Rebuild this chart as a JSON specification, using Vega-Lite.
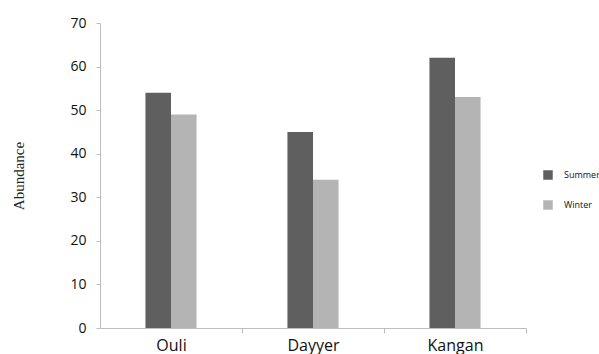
{
  "$schema": "https://vega.github.io/schema/vega-lite/v6.json",
  "width": 426,
  "height": 305,
  "autosize": {"type": "none"},
  "padding": {"left": 100, "top": 23, "right": 73, "bottom": 26},
  "background": "white",
  "data": {
    "values": [
      {"site": "Ouli", "season": "Summer", "abundance": 54},
      {"site": "Ouli", "season": "Winter", "abundance": 49},
      {"site": "Dayyer", "season": "Summer", "abundance": 45},
      {"site": "Dayyer", "season": "Winter", "abundance": 34},
      {"site": "Kangan", "season": "Summer", "abundance": 62},
      {"site": "Kangan", "season": "Winter", "abundance": 53}
    ]
  },
  "mark": {"type": "bar"},
  "encoding": {
    "x": {
      "field": "site",
      "type": "nominal",
      "sort": ["Ouli", "Dayyer", "Kangan"],
      "scale": {"paddingInner": 0.64, "paddingOuter": 0.32},
      "axis": {
        "title": null,
        "labelAngle": 0,
        "labelFont": "Open Sans",
        "labelFontSize": 16,
        "labelColor": "#111",
        "labelPadding": 4,
        "tickBand": "center",
        "tickOffset": 71,
        "labelOffset": -71,
        "tickSize": 5,
        "tickColor": "#bdbdbd",
        "domainColor": "#bdbdbd",
        "grid": false
      }
    },
    "xOffset": {"field": "season", "type": "nominal", "sort": ["Summer", "Winter"], "scale": {"paddingInner": 0, "paddingOuter": 0}},
    "y": {
      "field": "abundance",
      "type": "quantitative",
      "scale": {"domain": [0, 70], "nice": false},
      "axis": {
        "title": "Abundance",
        "titleFont": "Liberation Serif",
        "titleFontSize": 15,
        "titleFontWeight": "normal",
        "titleColor": "#222",
        "titleX": -77,
        "titleBaseline": "alphabetic",
        "values": [0, 10, 20, 30, 40, 50, 60, 70],
        "labelFont": "Open Sans",
        "labelFontSize": 14,
        "labelColor": "#111",
        "labelPadding": 10,
        "tickSize": 4,
        "tickColor": "#bdbdbd",
        "domainColor": "#bdbdbd",
        "grid": false
      }
    },
    "color": {
      "field": "season",
      "type": "nominal",
      "sort": ["Summer", "Winter"],
      "scale": {"domain": ["Summer", "Winter"], "range": ["#5f5f5f", "#b4b4b4"]},
      "legend": {
        "title": null,
        "orient": "none",
        "legendX": 443,
        "legendY": 147,
        "symbolType": "square",
        "symbolSize": 90,
        "symbolStrokeWidth": 0,
        "rowPadding": 20,
        "labelOffset": 11,
        "labelFont": "Open Sans",
        "labelFontSize": 9,
        "labelColor": "#111"
      }
    }
  },
  "config": {
    "view": {"stroke": null}
  }
}
